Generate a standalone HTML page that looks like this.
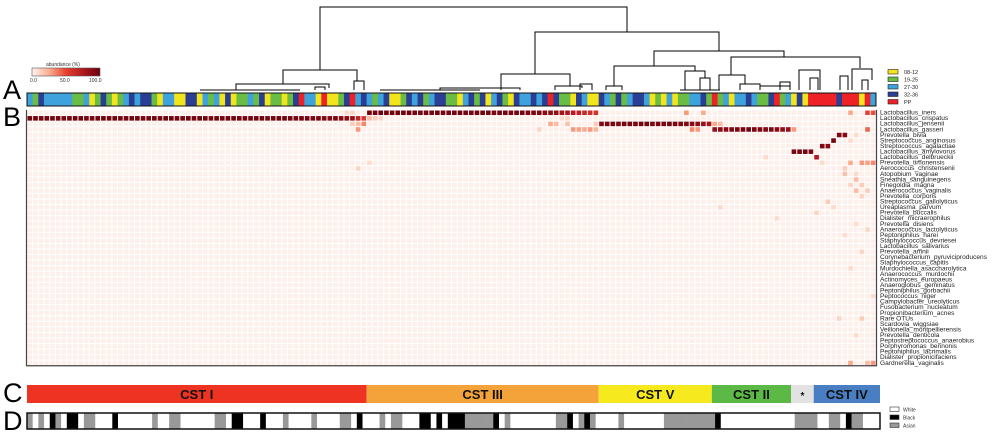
<!DOCTYPE html>
<html><head><meta charset="utf-8"><style>
html,body{margin:0;padding:0;background:#fff;}
body{width:1000px;height:433px;overflow:hidden;font-family:"Liberation Sans",sans-serif;}
svg{display:block;}
</style></head><body>
<svg id="fig" width="1000" height="433" viewBox="0 0 1000 433" xmlns="http://www.w3.org/2000/svg"></svg>
<script>
// ---------- data ----------
const species = ["Lactobacillus_iners","Lactobacillus_crispatus","Lactobacillus_jensenii","Lactobacillus_gasseri","Prevotella_bivia","Streptococcus_anginosus","Streptococcus_agalactiae","Lactobacillus_amylovorus","Lactobacillus_delbrueckii","Prevotella_timonensis","Aerococcus_christensenii","Atopobium_vaginae","Sneathia_sanguinegens","Finegoldia_magna","Anaerococcus_vaginalis","Prevotella_corporis","Streptococcus_gallolyticus","Ureaplasma_parvum","Prevotella_buccalis","Dialister_micraerophilus","Prevotella_disiens","Anaerococcus_lactolyticus","Peptoniphilus_harei","Staphylococcus_devriesei","Lactobacillus_salivarius","Prevotella_amnii","Corynebacterium_pyruviciproducens","Staphylococcus_capitis","Murdochiella_asaccharolytica","Anaerococcus_murdochii","Actinomyces_europaeus","Anaeroglobus_geminatus","Peptoniphilus_gorbachii","Peptococcus_niger","Campylobacter_ureolyticus","Fusobacterium_nucleatum","Propionibacterium_acnes","Rare OTUs","Scardovia_wiggsiae","Veillonella_montpellierensis","Prevotella_denticola","Peptostreptococcus_anaerobius","Porphyromonas_bennonis","Peptoniphilus_lacrimalis","Dialister_propionicifaciens","Gardnerella_vaginalis"];
// age group per sample: Y=08-12 G=19-25 L=27-30 D=32-36 R=PP
const ageGroups = "LGDLLLLLGGLYGDGYGLDLDDGYLLYYDDYLGLYDYGGLGDYGGYGDRLLYRYYGDRL"+"DLGLDYYGDLDGLDDGGYLDGDYLDGYDLLDLDRDGGYDLY"+"YDLGDGLDDLYGYLYGGLLDGRGLYLLDLGGDRGLYDY"+"RRRRRDRRRYR";
// race per sample: W=White B=Black A=Asian
const race = "AWAWBAWBBWAAWWWBWWWWWWAWWAAWWWWWWAAWBBWWWBWWWAWWWWAWWWWAAWBWWWAWAAWWWBBWBWBBBAAAAABWAWWWWWWWWAABWABAWWWWAWWWWWWWAAAAAAAAABWWWWWWWWWWWWWAAAAWWAAWBAAWWW";
const cstNames = ["CST I","CST III","CST V","CST II","*","CST IV"];
const cstCounts = [60,41,20,14,4,11];
// dominant species abundance (%) per sample within its CST block
const crispatusI = [96,97,95,98,96,97,95,96,98,97,96,95,97,98,96,97,95,96,97,98,96,95,97,96,98,97,96,95,97,96,98,96,95,97,96,97,98,96,95,97,96,97,95,96,98,97,96,95,97,96,94,95,93,92,94,90,88,85,70,60];
const inersIII = [97,96,98,97,95,96,97,98,96,95,97,96,98,97,95,96,97,96,95,97,98,96,95,97,96,95,97,96,94,93,92,90,88,85,82,78,75,72,68,65,62];
const jenseniiV = [92,94,95,93,96,95,94,96,95,93,94,95,96,94,93,92,90,88,85,80];
const gasseriII = [85,88,90,92,94,95,96,95,94,93,92,90,88,86];
// sparse secondary entries: [speciesIndex, sample, abundance]
const extras = [
 [0,116,30],[0,119,25],[0,145,25],[0,148,55],[0,149,50],[0,56,10],[0,57,12],
 [1,60,20],[1,61,15],[1,62,12],[1,94,10],[1,95,12],
 [2,57,15],[2,58,20],[2,59,35],[2,92,25],[2,93,20],[2,95,18],[2,121,25],[2,122,20],[2,100,15],
 [3,58,30],[3,96,30],[3,97,28],[3,98,25],[3,99,30],[3,100,22],[3,117,35],[3,118,30],[3,135,30],[3,148,45],[3,90,12],
 [4,143,92],[4,144,90],[4,146,10],
 [5,142,95],[5,145,10],
 [6,140,92],[6,141,90],
 [7,135,95],[7,136,94],[7,137,96],[7,138,93],
 [8,139,75],[8,130,10],
 [9,145,25],[9,147,30],[9,148,28],[9,149,35],[9,140,10],[9,60,10],
 [10,144,15],[10,58,12],[11,144,18],[11,146,10],[12,146,20],[13,145,12],[13,147,15],
 [14,146,20],[14,148,15],[15,147,12],[16,141,15],[17,122,10],[17,142,10],
 [18,139,12],[19,132,10],[20,146,10],[21,148,12],[22,144,10],[25,147,12],[28,145,10],
 [33,149,10],[37,147,15],[37,143,12],[40,146,10],[45,145,25],[45,148,20],[45,149,30]
];
// ---------- drawing ----------
const NS="http://www.w3.org/2000/svg";
const svg=document.getElementById('fig');
function mk(tag,attrs,parent){const e=document.createElementNS(NS,tag);for(const k in attrs)e.setAttribute(k,attrs[k]);(parent||svg).appendChild(e);return e;}
const N=ageGroups.length>=150?150:150;
const x0=27,x1=876,cw=(x1-x0)/N;
const hy0=110,rh=5.56;
const xs=c=>x0+c*cw;
const ys=r=>hy0+r*rh;
// Reds colormap
const stops=[[0,[253,240,235]],[10,[253,220,205]],[25,[252,170,140]],[50,[236,80,60]],[75,[185,25,30]],[100,[103,0,13]]];
function col(v){for(let i=1;i<stops.length;i++){if(v<=stops[i][0]){const a=stops[i-1],b=stops[i];const t=(v-a[0])/(b[0]-a[0]);const c=a[1].map((q,j)=>Math.round(q+(b[1][j]-q)*t));return `rgb(${c[0]},${c[1]},${c[2]})`;}}return 'rgb(103,0,13)';}
// matrix
const M=species.map(()=>new Array(N).fill(0));
let off=0;
crispatusI.forEach((v,i)=>M[1][off+i]=v); off+=cstCounts[0];
inersIII.forEach((v,i)=>M[0][off+i]=v); off+=cstCounts[1];
jenseniiV.forEach((v,i)=>M[2][off+i]=v); off+=cstCounts[2];
gasseriII.forEach((v,i)=>M[3][off+i]=v);
extras.forEach(e=>{if(e[1]<N)M[e[0]][e[1]]=e[2];});

// letters
[["A",99],["B",126],["C",402],["D",430]].forEach(l=>{
  const t=mk('text',{x:3,y:l[1],'font-size':27,'font-family':'Liberation Sans, sans-serif',fill:'#000'});
  t.textContent=l[0];
  
  
});

// dendrogram
const dg=mk('g',{stroke:'#000','stroke-width':1,fill:'none'});


const dl=[
 "M320,70 V7 H627 V32","M283,84 V70 H357 V81","M535,74 V32 H719 V51",
 "M501,90 V74 H570 V86","M654,66 V51 H784 V57","M614,86 V66 H695 V71",
 "M731,75 V57 H860 V68","M719,90 V75 H745 V84","M799,90 V70 H820 V90",
 "M852,90 V69 H872 V80","M236,90 V84 H329 V88","M354,90 V81 H364 V90",
 "M685,90 V71 H705 V78","M700,90 V78 H710 V90","M606,90 V86 H622 V90",
 "M555,90 V86 H582 V88","M580,90 V84 H592 V90","M315,90 V87 H325 V90",
 "M740,90 V84 H760 V88","M840,90 V76 H848 V90","M862,90 V80 H868 V90",
 "M810,90 V78 H818 V90","M780,90 V82 H790 V90","M440,90 V88 H520 V90",
 "M760,90 V86 H790 V88","M200,90 H300","M380,90 H480","M680,90 H720"
];
dl.forEach(d=>mk('path',{d},dg));

// abundance legend
const defs=mk('defs',{});
const lg=mk('linearGradient',{id:'gr',x1:0,x2:1,y1:0,y2:0},defs);
[[0,'#fff5f0'],[0.25,'#fcae91'],[0.5,'#e8412f'],[0.75,'#b01a1e'],[1,'#67000d']].forEach(s=>mk('stop',{offset:s[0],'stop-color':s[1]},lg));
const leg=mk('g',{});


mk('rect',{x:32,y:68,width:68,height:8,fill:'url(#gr)',stroke:'#555','stroke-width':0.6},leg);
let t=mk('text',{x:46,y:66,'font-size':5,fill:'#333'},leg);t.textContent='abundance (%)';
[['0.0',30],['50.0',60],['100.0',89]].forEach(a=>{const q=mk('text',{x:a[1],y:82,'font-size':5,fill:'#333'},leg);q.textContent=a[0];});

// bar A
const ageCol={Y:'#f2e51c',G:'#69bd45',L:'#3ea3dd',D:'#2b3e96',R:'#ee2226'};
const ga=mk('g',{});


for(let c=0;c<N;c++){
  const r=mk('rect',{x:xs(c),y:93,width:cw+0.4,height:13,fill:ageCol[ageGroups[c]]||'#3ea3dd'},ga);
  
  
}
mk('rect',{x:x0,y:93,width:x1-x0,height:13,fill:'none',stroke:'#111','stroke-width':1},ga);

// age legend
const al=[['08-12','#f2e51c'],['19-25','#69bd45'],['27-30','#3ea3dd'],['32-36','#2b3e96'],['PP','#ee2226']];
al.forEach((a,i)=>{
  const g=mk('g',{});
  
  
  mk('rect',{x:888,y:69.5+i*7.5,width:10,height:4.5,fill:a[1],stroke:'#222','stroke-width':0.6},g);
  const q=mk('text',{x:904,y:74+i*7.5,'font-size':5.5,fill:'#222'},g);q.textContent=a[0];
});

// heatmap
const hm=mk('g',{});


for(let r=0;r<species.length;r++){
  for(let c=0;c<N;c++){
    const cell=mk('rect',{x:xs(c)+0.5,y:ys(r)+0.5,width:cw-1,height:rh-1,fill:col(M[r][c])},hm);
    
    
  }
  const lab=mk('text',{x:880,y:ys(r)+4.6,'font-size':6.6,fill:'#222'});
  lab.textContent=species[r];
  
  
}
mk('path',{d:`M${x0-0.5},${hy0} V${ys(species.length)} H${x1+0.5} V${hy0}`,fill:'none',stroke:'#444','stroke-width':1.2},hm);

// bar C
const cstCol=['#ee3323','#f4a23a','#f6ea1e','#5cb946','#e2e2e2','#4a7ec2'];
let cc=0;
cstNames.forEach((n,i)=>{
  const g=mk('g',{});
  
  
  const xa=xs(cc), xb=(i===cstNames.length-1)?880:xs(cc+cstCounts[i]);
  mk('rect',{x:xa,y:385,width:xb-xa,height:18,fill:cstCol[i]},g);
  const q=mk('text',{x:(xa+xb)/2,y:399,'font-size':n==='*'?10:13,'font-weight':'bold','text-anchor':'middle',fill:'#111'},g);
  q.textContent=n;
  cc+=cstCounts[i];
});

// bar D
const raceCol={W:'#ffffff',B:'#000000',A:'#999999'};
const gd=mk('g',{});


const dx1=880,dcw=(dx1-x0)/N;
for(let c=0;c<N;c++){
  const r=mk('rect',{x:x0+c*dcw,y:413,width:dcw+0.3,height:16,fill:raceCol[race[c]]||'#fff'},gd);
  
  
}
mk('rect',{x:x0,y:413,width:dx1-x0,height:16,fill:'none',stroke:'#111','stroke-width':1.5},gd);
[['White','#fff'],['Black','#000'],['Asian','#999']].forEach((a,i)=>{
  const g=mk('g',{});
  
  
  mk('rect',{x:890,y:407+i*8,width:9,height:4.5,fill:a[1],stroke:'#333','stroke-width':0.6},g);
  const q=mk('text',{x:903,y:411.5+i*8,'font-size':5,fill:'#333'},g);q.textContent=a[0];
});
</script>
</body></html>
